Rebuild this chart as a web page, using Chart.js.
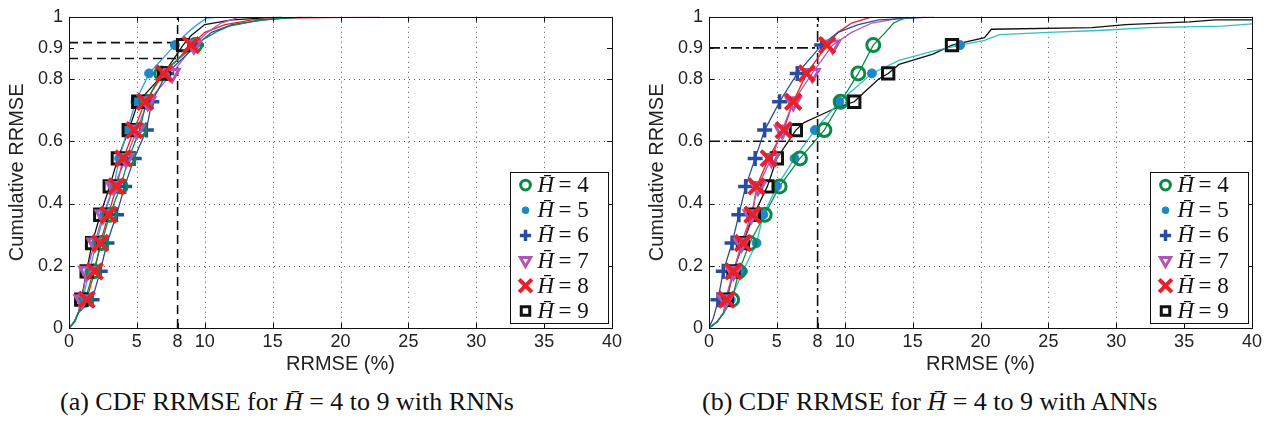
<!DOCTYPE html>
<html>
<head>
<meta charset="utf-8">
<script src="https://cdn.jsdelivr.net/npm/chart.js@4.4.1/dist/chart.umd.min.js"></script>
<style>
    html, body { margin: 0; padding: 0; background: #fff; }
    #wrap { position: relative; width: 1267px; height: 425px; overflow: hidden; }
    .panel { position: absolute; top: 0; width: 627px; height: 380px; }
    .caption {
        position: absolute; top: 387px;
        font-family: "Liberation Serif", "DejaVu Serif", serif;
        font-size: 26px; color: #111; white-space: nowrap;
    }
</style>
</head>
<body>
<div id="wrap">
    <div class="panel" style="left:0"><canvas id="rnnChart" width="627" height="380"></canvas></div>
    <div class="panel" style="left:640px"><canvas id="annChart" width="627" height="380"></canvas></div>
    <div class="caption" style="left:60px">(a) CDF RRMSE for <i>H̄</i> = 4 to 9 with RNNs</div>
    <div class="caption" style="left:702px">(b) CDF RRMSE for <i>H̄</i> = 4 to 9 with ANNs</div>
</div>
<script>
// ── Data ────────────────────────────────────────────────
const xTicks = [0, 5, 8, 10, 15, 20, 25, 30, 35, 40];
const yTicks = [0, 0.2, 0.4, 0.6, 0.8, 0.9, 1];
const xGrid = [5, 10, 15, 20, 25, 30, 35];
const yGrid = [0.2, 0.4, 0.6, 0.8];
const seriesLabels = ['4', '5', '6', '7', '8', '9'];

// cumulative levels where markers sit
const markerLevels = [0.091, 0.182, 0.273, 0.364, 0.455, 0.545, 0.636, 0.727, 0.818, 0.909];

// RNN markers (RRMSE % at each level)
const rnnH4 = [1.2, 1.8, 2.4, 3.0, 3.8, 4.4, 5.2, 5.7, 6.8, 9.3];
const rnnH5 = [1.0, 1.5, 2.0, 2.6, 3.3, 3.7, 4.3, 4.9, 5.9, 7.8];
const rnnH6 = [1.7, 2.3, 2.8, 3.5, 4.1, 4.8, 5.7, 6.1, 7.2, 9.4];
const rnnH7 = [0.95, 1.3, 1.9, 2.5, 3.3, 4.2, 5.0, 5.8, 7.6, 9.2];
const rnnH8 = [1.3, 1.9, 2.3, 2.9, 3.5, 4.0, 4.8, 5.6, 7.0, 9.0];
const rnnH9 = [0.9, 1.3, 1.7, 2.3, 3.0, 3.6, 4.4, 5.1, 7.0, 8.4];

// RNN curve start / tail points
const rnnHeadX = [0, 0.4, 0.7];
const rnnHeadY = [0, 0.02, 0.05];
const rnnH4TailX = [10.0, 11.0, 11.8, 13.8, 15.5, 17.9];
const rnnH4TailY = [0.93, 0.955, 0.97, 0.987, 0.995, 1];
const rnnH5TailX = [8.5, 9.3, 10.1, 11.1];
const rnnH5TailY = [0.94, 0.97, 0.995, 1];
const rnnH6TailX = [10.5, 12.0, 14.3, 17.2];
const rnnH6TailY = [0.95, 0.975, 0.99, 1];
const rnnH7TailX = [10.2, 11.2, 12.6];
const rnnH7TailY = [0.95, 0.98, 1];
const rnnH8TailX = [10.0, 11.5, 13.5, 16.0, 22.9];
const rnnH8TailY = [0.95, 0.975, 0.99, 0.996, 1];
const rnnH9TailX = [9.0, 10.0, 12.0, 15.7];
const rnnH9TailY = [0.94, 0.975, 0.99, 1];

// ANN markers
const annH4 = [1.7, 2.2, 3.0, 4.1, 5.2, 6.7, 8.5, 9.7, 11.0, 12.1];
const annH5 = [1.6, 2.5, 3.5, 4.0, 5.0, 6.3, 7.8, 9.6, 12.0, 18.5];
const annH6 = [0.66, 1.05, 1.7, 2.2, 2.7, 3.4, 4.1, 5.2, 6.5, 8.3];
const annH7 = [1.2, 1.8, 2.4, 3.1, 3.6, 4.6, 5.4, 6.2, 7.6, 9.1];
const annH8 = [1.3, 1.8, 2.5, 3.2, 3.5, 4.4, 5.5, 6.2, 7.2, 8.7];
const annH9 = [1.3, 1.8, 2.5, 3.3, 4.3, 5.0, 6.4, 10.7, 13.2, 17.9];

// ANN curve start / tail points
const annHeadX = [0, 0.6, 1.1];
const annHeadY = [0, 0.02, 0.05];
const annH6HeadX = [0, 0.3, 0.5];
const annH6HeadY = [0, 0.03, 0.06];
const annH4TailX = [13.0, 13.6, 14.6];
const annH4TailY = [0.95, 0.98, 1];
const annH5MidX = [14.0, 16.5];
const annH5MidY = [0.86, 0.89];
const annH5TailX = [20.3, 21.4, 25.0, 28.7, 32.4, 37.8, 40];
const annH5TailY = [0.924, 0.943, 0.95, 0.956, 0.965, 0.97, 0.977];
const annH6TailX = [9.5, 11.0, 12.5, 16.6];
const annH6TailY = [0.95, 0.975, 0.99, 1];
const annH7TailX = [10.5, 12.0, 14.0, 16.0];
const annH7TailY = [0.95, 0.98, 0.995, 1];
const annH8TailX = [9.5, 10.5, 12.0];
const annH8TailY = [0.95, 0.98, 1];
const annH9BendX = [7.0, 8.5, 9.5];
const annH9BendY = [0.66, 0.69, 0.71];
const annH9Bend2X = [11.5, 12.5];
const annH9Bend2Y = [0.76, 0.80];
const annH9MidX = [14.0, 16.5];
const annH9MidY = [0.847, 0.88];
const annH9TailX = [20.3, 20.8, 28.2, 30.7, 35.4, 37.3, 40];
const annH9TailY = [0.933, 0.96, 0.965, 0.975, 0.984, 0.99, 0.99];

// reference (dashed) lines
const rnnRefH1 = [[0, 0.917], [8, 0.917]];
const rnnRefH2 = [[0, 0.866], [8, 0.866]];
const rnnRefV = [[8, 0], [8, 1]];
const annRefH1 = [[0, 0.9], [8, 0.9]];
const annRefH2 = [[0, 0.6], [8, 0.6]];
const annRefV = [[8, 0], [8, 1]];

// ── Styles ──────────────────────────────────────────────
const markerStyles = [
    { color: '#0b8a45', pointStyle: 'circle', radius: 6.5, width: 3, fill: 'rgba(0,0,0,0)', order: 0.4 },
    { color: '#1f86cc', pointStyle: 'circle', radius: 4.5, width: 1, fill: '#1f86cc', order: 0.5 },
    { color: '#2a4c9f', pointStyle: 'cross', radius: 7.5, width: 3.5, fill: '#2a4c9f', order: 0.6 },
    { color: '#b455b2', pointStyle: 'triangle', radius: 8, width: 3, fill: 'rgba(0,0,0,0)', rotation: 180, order: 0.2 },
    { color: '#e8202a', pointStyle: 'crossRot', radius: 11, width: 4, fill: '#e8202a', order: 0 },
    { color: '#111111', pointStyle: 'rect', radius: 8, width: 3, fill: 'rgba(0,0,0,0)', order: 0.3 }
];
const rnnLineColors = ['#0b8a45', '#3a9fe0', '#2a4c9f', '#b455b2', '#e8202a', '#111111'];
const annLineColors = ['#0b8a45', '#2fc0c4', '#2a4c9f', '#b455b2', '#e8202a', '#111111'];

// ── Helpers ─────────────────────────────────────────────
function pts(xs, ys) {
    return xs.map((x, i) => ({ x: x, y: ys[i] }));
}

function buildCurve(parts) {
    let out = [];
    parts.forEach(p => { out = out.concat(pts(p[0], p[1])); });
    return out.sort((a, b) => a.y - b.y || a.x - b.x);
}

function buildDatasets(curves, markers, lineColors, refs, refDash) {
    const sets = [];
    markers.forEach((m, i) => {
        const st = markerStyles[i];
        sets.push({
            data: pts(m, markerLevels),
            showLine: false,
            pointStyle: st.pointStyle,
            pointRadius: st.radius,
            pointBorderWidth: st.width,
            pointBorderColor: st.color,
            pointBackgroundColor: st.fill,
            pointRotation: st.rotation || 0,
            order: st.order
        });
    });
    curves.forEach((c, i) => {
        sets.push({
            data: c,
            showLine: true,
            borderColor: lineColors[i],
            borderWidth: 1.3,
            pointRadius: 0,
            tension: 0,
            order: 1
        });
    });
    refs.forEach(r => {
        sets.push({
            data: r.map(p => ({ x: p[0], y: p[1] })),
            showLine: true,
            borderColor: '#111',
            borderWidth: 1.6,
            borderDash: refDash,
            pointRadius: 0,
            order: 2
        });
    });
    return sets;
}

// grid, frame, inward ticks and legend box
const framePlugin = {
    id: 'frame',
    beforeDatasetsDraw(chart) {
        const { ctx, chartArea: a, scales: { x, y } } = chart;
        ctx.save();
        ctx.strokeStyle = '#555';
        ctx.lineWidth = 1;
        ctx.setLineDash([1, 4]);
        xGrid.forEach(v => {
            const px = Math.round(x.getPixelForValue(v)) + 0.5;
            ctx.beginPath(); ctx.moveTo(px, a.top); ctx.lineTo(px, a.bottom); ctx.stroke();
        });
        yGrid.forEach(v => {
            const py = Math.round(y.getPixelForValue(v)) + 0.5;
            ctx.beginPath(); ctx.moveTo(a.left, py); ctx.lineTo(a.right, py); ctx.stroke();
        });
        ctx.restore();
    },
    afterDatasetsDraw(chart) {
        const { ctx, chartArea: a, scales: { x, y } } = chart;
        ctx.save();
        ctx.strokeStyle = '#111';
        ctx.lineWidth = 1;
        ctx.setLineDash([]);
        xTicks.forEach(v => {
            const px = Math.round(x.getPixelForValue(v)) + 0.5;
            ctx.beginPath();
            ctx.moveTo(px, a.bottom); ctx.lineTo(px, a.bottom - 5);
            ctx.moveTo(px, a.top); ctx.lineTo(px, a.top + 5);
            ctx.stroke();
        });
        yTicks.forEach(v => {
            const py = Math.round(y.getPixelForValue(v)) + 0.5;
            ctx.beginPath();
            ctx.moveTo(a.left, py); ctx.lineTo(a.left + 5, py);
            ctx.moveTo(a.right, py); ctx.lineTo(a.right - 5, py);
            ctx.stroke();
        });
        ctx.strokeRect(Math.round(a.left) + 0.5, Math.round(a.top) + 0.5,
            Math.round(a.right - a.left), Math.round(a.bottom - a.top));

        // legend
        const bw = 98, bh = 151;
        const bx = Math.round(a.right - 4 - bw) + 0.5;
        const by = Math.round(a.bottom - 5 - bh) + 0.5;
        ctx.fillStyle = '#fff';
        ctx.fillRect(bx, by, bw, bh);
        ctx.strokeRect(bx, by, bw, bh);
        const rowH = bh / 6;
        seriesLabels.forEach((lab, i) => {
            const st = markerStyles[i];
            const cy = by + rowH * (i + 0.5);
            ctx.save();
            ctx.fillStyle = st.fill;
            ctx.strokeStyle = st.color;
            ctx.lineWidth = st.width;
            Chart.helpers.drawPoint(ctx, {
                pointStyle: st.pointStyle,
                radius: st.pointStyle === 'crossRot' ? 9 : st.radius * 0.75,
                borderWidth: st.width,
                rotation: st.rotation || 0
            }, bx + 15, cy);
            ctx.restore();
            ctx.fillStyle = '#111';
            ctx.textBaseline = 'middle';
            ctx.font = 'italic 23px "Liberation Serif"';
            ctx.fillText('H\u0304', bx + 27, cy + 1);
            ctx.font = '23px "Liberation Serif"';
            ctx.fillText('= ' + lab, bx + 48, cy + 1);
        });
        ctx.restore();
    }
};

function makeChart(id, datasets) {
    const el = document.getElementById(id);
    return new Chart(el, {
        type: 'scatter',
        data: { datasets: datasets },
        plugins: [framePlugin],
        options: {
            responsive: false,
            animation: false,
            devicePixelRatio: 1,
            layout: { padding: { top: 14, right: 14, left: 0, bottom: 0 } },
            plugins: { legend: { display: false }, tooltip: { enabled: false } },
            scales: {
                x: {
                    type: 'linear', min: 0, max: 40,
                    afterBuildTicks: s => { s.ticks = xTicks.map(v => ({ value: v })); },
                    afterFit: s => { s.height = 52; },
                    grid: { display: false, drawTicks: false },
                    border: { display: false },
                    ticks: {
                        autoSkip: false, maxRotation: 0, padding: 3, color: '#222',
                        font: { family: 'Liberation Sans', size: 18 },
                        callback: v => String(v)
                    },
                    title: {
                        display: true, text: 'RRMSE (%)', color: '#222',
                        font: { family: 'Liberation Sans', size: 20 },
                        padding: { top: 4, bottom: 4 }
                    }
                },
                y: {
                    type: 'linear', min: 0, max: 1,
                    afterBuildTicks: s => { s.ticks = yTicks.map(v => ({ value: v })); },
                    afterFit: s => { s.width = 69; },
                    grid: { display: false, drawTicks: false },
                    border: { display: false },
                    ticks: {
                        autoSkip: false, padding: 6, color: '#222',
                        font: { family: 'Liberation Sans', size: 18 },
                        callback: v => String(v)
                    },
                    title: {
                        display: true, text: 'Cumulative RRMSE', color: '#222',
                        font: { family: 'Liberation Sans', size: 20 },
                        padding: { top: 5, bottom: 5 }
                    }
                }
            }
        }
    });
}

// ── Build charts ────────────────────────────────────────
const rnnMarkers = [rnnH4, rnnH5, rnnH6, rnnH7, rnnH8, rnnH9];
const rnnTails = [
    [rnnH4TailX, rnnH4TailY], [rnnH5TailX, rnnH5TailY], [rnnH6TailX, rnnH6TailY],
    [rnnH7TailX, rnnH7TailY], [rnnH8TailX, rnnH8TailY], [rnnH9TailX, rnnH9TailY]
];
const rnnCurves = rnnMarkers.map((m, i) =>
    buildCurve([[rnnHeadX, rnnHeadY], [m, markerLevels], rnnTails[i]]));

const annMarkers = [annH4, annH5, annH6, annH7, annH8, annH9];
const annCurves = [
    buildCurve([[annHeadX, annHeadY], [annH4, markerLevels], [annH4TailX, annH4TailY]]),
    buildCurve([[annHeadX, annHeadY], [annH5, markerLevels], [annH5MidX, annH5MidY], [annH5TailX, annH5TailY]]),
    buildCurve([[annH6HeadX, annH6HeadY], [annH6, markerLevels], [annH6TailX, annH6TailY]]),
    buildCurve([[annHeadX, annHeadY], [annH7, markerLevels], [annH7TailX, annH7TailY]]),
    buildCurve([[annHeadX, annHeadY], [annH8, markerLevels], [annH8TailX, annH8TailY]]),
    buildCurve([[annHeadX, annHeadY], [annH9, markerLevels], [annH9BendX, annH9BendY],
        [annH9Bend2X, annH9Bend2Y], [annH9MidX, annH9MidY], [annH9TailX, annH9TailY]])
];

makeChart('rnnChart', buildDatasets(rnnCurves, rnnMarkers, rnnLineColors,
    [rnnRefH1, rnnRefH2, rnnRefV], [9, 5]));
makeChart('annChart', buildDatasets(annCurves, annMarkers, annLineColors,
    [annRefH1, annRefH2, annRefV], [11, 4, 3, 4]));
</script>
</body>
</html>
